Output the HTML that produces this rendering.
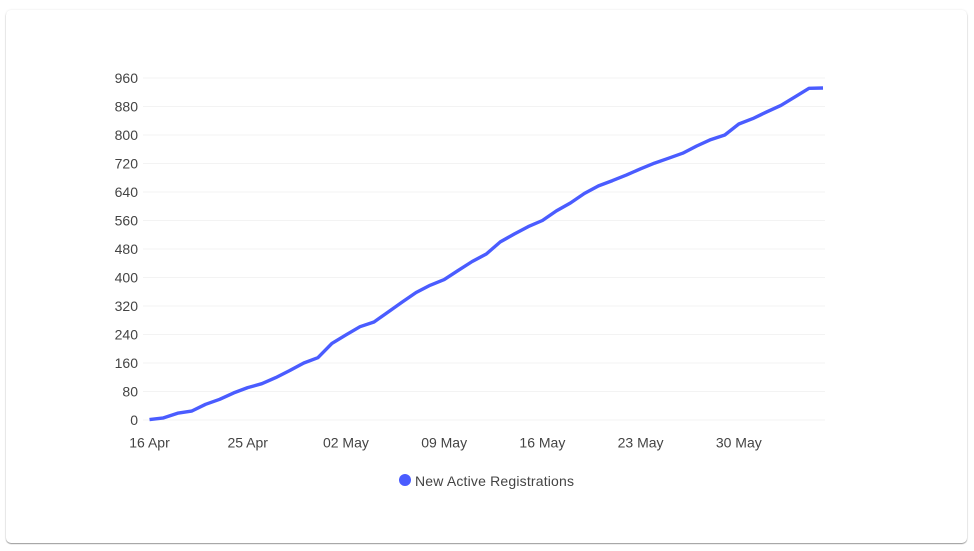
<!DOCTYPE html>
<html lang="en">
<head>
<meta charset="utf-8">
<title>New Active Registrations</title>
<style>
html,body{margin:0;padding:0;background:#fff;width:974px;height:551px;overflow:hidden}
#card{position:absolute;left:6px;top:10px;width:961px;height:533px;background:#fff;border-radius:5px;box-shadow:0 1px 1px rgba(0,0,0,.38),0 0 2px rgba(0,0,0,.10)}
svg{position:absolute;left:0;top:0}
text{font-family:"Liberation Sans",sans-serif;font-size:14px;fill:#444}
</style>
</head>
<body>
<div id="card"></div>
<svg id="chart" width="974" height="551" viewBox="0 0 974 551" xmlns="http://www.w3.org/2000/svg"></svg>
<script>
const categories = ["16 Apr","19 Apr","20 Apr","21 Apr","22 Apr","23 Apr","24 Apr","25 Apr","26 Apr","27 Apr","28 Apr","29 Apr","30 Apr","01 May","02 May","03 May","04 May","05 May","06 May","07 May","08 May","09 May","10 May","11 May","12 May","13 May","14 May","15 May","16 May","17 May","18 May","19 May","20 May","21 May","22 May","23 May","24 May","25 May","26 May","27 May","28 May","29 May","30 May","31 May","01 Jun","02 Jun","03 Jun","04 Jun","05 Jun"];
const registrations = [1,6,19,25,44,58,76,91,102,119,139,160,175,215,239,262,275,303,331,358,378,394,420,445,466,500,522,543,560,587,609,636,657,672,688,705,721,735,749,769,787,800,831,846,865,883,907,931,932];
const yTicks = [0,80,160,240,320,400,480,560,640,720,800,880,960];
const xTickLabels = ["16 Apr","25 Apr","02 May","09 May","16 May","23 May","30 May"];
const seriesName = "New Active Registrations";

const svg = document.getElementById('chart');
const NS = 'http://www.w3.org/2000/svg';
const plot = {left:149.5, right:823, top:78, bottom:420, gridLeft:143, gridRight:825};
const yMax = yTicks[yTicks.length-1];
function xScale(i){ return plot.left + i*(plot.right-plot.left)/(categories.length-1); }
function yScale(v){ return plot.bottom - v*(plot.bottom-plot.top)/yMax; }
function make(tag, attrs, parent){
  const el = document.createElementNS(NS, tag);
  for (const k in attrs) el.setAttribute(k, attrs[k]);
  (parent||svg).appendChild(el);
  return el;
}

const grid = make('g', {});


const yAxis = make('g', {});


yTicks.forEach(function(t){
  const y = yScale(t);
  const line = make('line', {x1:plot.gridLeft, x2:plot.gridRight, y1:y, y2:y, stroke:'#f3f3f3', 'stroke-width':1}, grid);
  
  
  const label = make('text', {x:138, y:y+5, 'text-anchor':'end'}, yAxis);
  label.textContent = t;
  
  
});

const xAxis = make('g', {});


xTickLabels.forEach(function(name){
  const i = categories.indexOf(name);
  const label = make('text', {x:xScale(i), y:447.5, 'text-anchor':'middle'}, xAxis);
  label.textContent = name;
  
  
});

const pts = registrations.map(function(v,i){ return xScale(i).toFixed(1)+','+yScale(v).toFixed(1); }).join(' ');
const series = make('polyline', {points:pts, fill:'none', stroke:'#4a5cff', 'stroke-width':3.4, 'stroke-linejoin':'round', 'stroke-linecap':'butt'});



const legend = make('g', {});


const dot = make('circle', {cx:405, cy:480, r:6, fill:'#4a5cff'}, legend);


const legendText = make('text', {x:415, y:486, textLength:159, lengthAdjust:'spacing'}, legend);
legendText.textContent = seriesName;


</script>
</body>
</html>
